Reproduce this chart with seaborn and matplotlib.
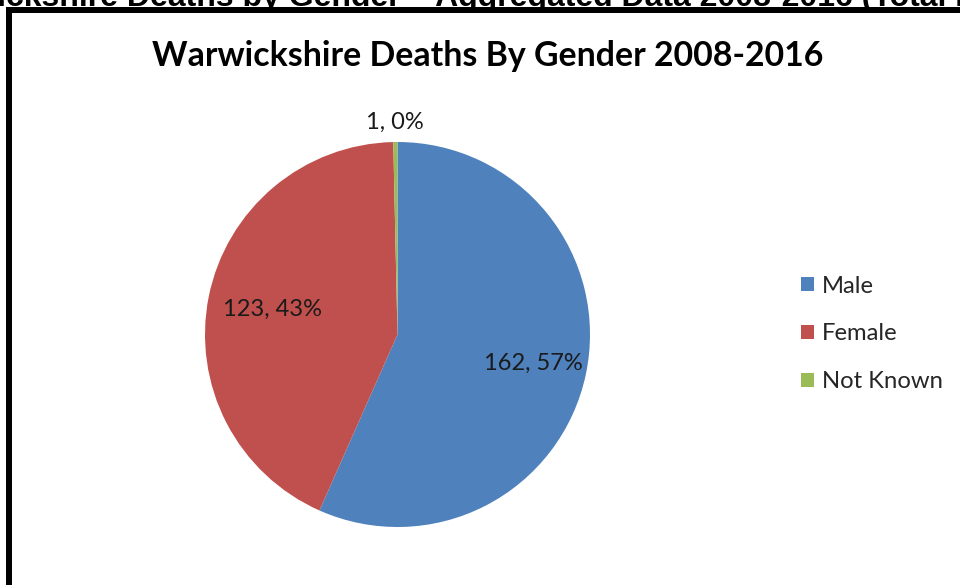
import matplotlib
matplotlib.use("Agg")
import matplotlib.pyplot as plt
import matplotlib.patches as mpatches
import seaborn as sns
import numpy as np

# data
categories = ["Male", "Female", "Not Known"]
deaths = [162, 123, 1]
colours = ["#4F81BD", "#C0504D", "#9BBB59"]
label_radius = [0.72, 0.66, 1.10]  # where each data label sits (fraction of radius)

title = "Warwickshire Deaths By Gender 2008-2016"
page_heading = "Warwickshire Deaths by Gender \u2013 Aggregated Data 2008-2016 (Total Deaths = 286)"

sns.set_theme(style="white")
plt.rcParams['font.family'] = ['Lato', 'DejaVu Sans']

W, H = 960, 585
fig = plt.figure(figsize=(9.6, 5.85), dpi=100)
fig.patch.set_facecolor("white")

# heading of the page, mostly cut off at the top of the screenshot
fig.text(-87 / W, 1 - 6 / H, page_heading, family=['Liberation Sans', 'DejaVu Sans'],
         fontweight='bold', fontsize=23, va='baseline', ha='left', color='black')

# thick black chart border (right and bottom edges fall outside the crop)
border = mpatches.Rectangle((9 / W, -0.2), 1.5, (1 - 10 / H) + 0.2, transform=fig.transFigure,
                            fill=False, edgecolor='black', linewidth=4.32)
fig.patches.append(border)

# pie
ax = fig.add_axes([205 / W, 1 - 527 / H, 385 / W, 385 / H])
wedges, _ = ax.pie(deaths, colors=colours, startangle=90, counterclock=False,
                   wedgeprops=dict(linewidth=0))
ax.set_xlim(-1, 1)
ax.set_ylim(-1, 1)
ax.set_axis_off()

# data labels "value, percent"
total = sum(deaths)
for w, n, r in zip(wedges, deaths, label_radius):
    mid = np.deg2rad((w.theta1 + w.theta2) / 2)
    ax.text(r * np.cos(mid), r * np.sin(mid), f"{n}, {n / total:.0%}",
            ha='center', va='center', fontsize=17, color='#1a1a1a')

fig.text(488 / W, 1 - 56 / H, title, ha='center', va='center',
         fontsize=24.4, fontweight='bold', color='black')

fig.legend(wedges, categories, loc='center left', bbox_to_anchor=(801 / W, 1 - 334 / H),
           frameon=False, fontsize=17.2, handlelength=0.55, handleheight=0.55,
           handletextpad=0.33, labelspacing=1.12, borderpad=0, borderaxespad=0)

fig.savefig("out.png", dpi=100)
plt.close()
